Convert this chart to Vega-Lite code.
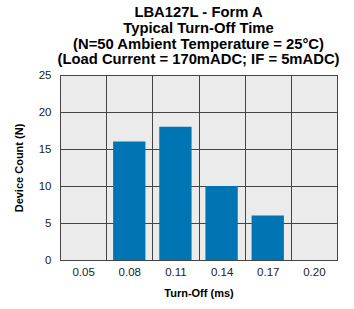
{
  "$schema": "https://vega.github.io/schema/vega-lite/v6.json",
  "autosize": "none",
  "width": 277,
  "height": 185,
  "padding": {"left": 60, "top": 75, "right": 17, "bottom": 49},
  "background": "white",
  "title": {
    "text": ["LBA127L - Form A", "Typical Turn-Off Time", "(N=50 Ambient Temperature = 25°C)", "(Load Current = 170mADC; IF = 5mADC)"],
    "font": "Liberation Sans",
    "fontSize": 14.8,
    "fontWeight": "bold",
    "color": "black",
    "lineHeight": 15.6,
    "anchor": "middle",
    "offset": 2
  },
  "config": {
    "view": {"fill": "#ebebeb", "stroke": "#222222", "strokeWidth": 1},
    "axis": {
      "labelFont": "Liberation Sans",
      "labelFontSize": 11.5,
      "labelColor": "#222222",
      "titleFont": "Liberation Sans",
      "titleFontSize": 11,
      "titleFontWeight": "bold",
      "titleColor": "black",
      "gridColor": "#444444",
      "gridOpacity": 1,
      "gridWidth": 1,
      "domain": false,
      "ticks": false
    }
  },
  "data": {
    "values": [
      {"t": "0.05", "n": 0},
      {"t": "0.08", "n": 16},
      {"t": "0.11", "n": 18},
      {"t": "0.14", "n": 10},
      {"t": "0.17", "n": 6},
      {"t": "0.20", "n": 0}
    ]
  },
  "mark": {"type": "bar", "color": "#0075b4", "width": {"band": 0.7}},
  "encoding": {
    "x": {
      "field": "t",
      "type": "ordinal",
      "sort": null,
      "scale": {"paddingInner": 0, "paddingOuter": 0},
      "axis": {"title": "Turn-Off (ms)", "labelAngle": 0, "grid": true, "tickBand": "extent", "labelPadding": 6, "titlePadding": 10}
    },
    "y": {
      "field": "n",
      "type": "quantitative",
      "scale": {"domain": [0, 25]},
      "axis": {"title": "Device Count (N)", "values": [0, 5, 10, 15, 20, 25], "grid": true, "labelPadding": 9, "titlePadding": 14}
    }
  }
}
